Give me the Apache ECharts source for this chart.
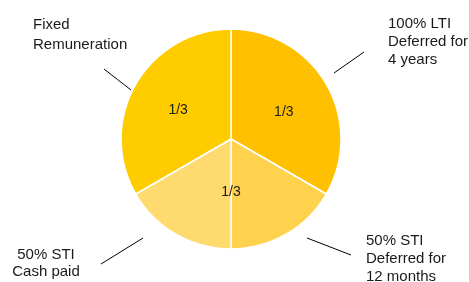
<!DOCTYPE html>
<html>
<head>
<meta charset="utf-8">
<script src="https://cdn.jsdelivr.net/npm/echarts@6/dist/echarts.min.js"></script>
<style>
  html, body { margin: 0; padding: 0; background: #fff; }
  #chart { width: 469px; height: 282px; }
</style>
</head>
<body>
<div id="chart"></div>
<script>
// pay mix, clockwise from 12 o'clock
const categories = ['100% LTI\nDeferred for\n4 years', '50% STI\nDeferred for\n12 months', '50% STI\nCash paid', 'Fixed\nRemuneration']
const shares = [1 / 3, 1 / 6, 1 / 6, 1 / 3]
// the three thirds that carry the "1/3" text
const thirdLabels = ['1/3', '1/3', '1/3']
const thirdShares = [1 / 3, 1 / 3, 1 / 3]

const colors = ['#FFC000', '#FFD24D', '#FFDA6E', '#FFCC00']
const font = 'Liberation Sans, Arial, sans-serif'

// where each outer label sits and its short leader line
const outer = [
  {x: 388, y: 41.5, align: 'left', lh: 18, line: [[334, 73], [364, 52]]},
  {x: 366, y: 259, align: 'left', lh: 18, line: [[307, 238], [351, 255]]},
  {x: 46, y: 263, align: 'center', lh: 17, line: [[143, 238], [101, 264]]},
  {x: 33, y: 35, align: 'left', lh: 20, line: [[131, 90], [104, 69]]}
]
// small nudges for the inner "1/3" texts
const innerDy = [4, -8, 2]

const chart = echarts.init(document.getElementById('chart'), null, {renderer: 'canvas'})
chart.setOption({
  animation: false,
  color: colors,
  series: [
    {
      type: 'pie',
      center: [231, 139],
      radius: 110,
      startAngle: 90,
      clockwise: true,
      avoidLabelOverlap: false,
      silent: true,
      itemStyle: {borderColor: '#fff', borderWidth: 1.5},
      label: {
        show: true,
        position: 'outside',
        fontFamily: font,
        fontSize: 15,
        color: '#1a1a1a'
      },
      labelLine: {show: true, lineStyle: {color: '#000', width: 1}},
      labelLayout: params => {
        const o = outer[params.dataIndex]
        const [a, b] = o.line
        return {
          x: o.x,
          y: o.y,
          align: o.align,
          verticalAlign: 'middle',
          labelLinePoints: [a, [(a[0] + b[0]) / 2, (a[1] + b[1]) / 2], b]
        }
      },
      data: categories.map((name, i) => ({
        name,
        value: shares[i],
        label: {lineHeight: outer[i].lh}
      }))
    },
    {
      type: 'pie',
      center: [231, 139],
      radius: 116,
      startAngle: 90,
      clockwise: true,
      silent: true,
      z: 3,
      itemStyle: {color: 'rgba(0,0,0,0)', borderWidth: 0},
      label: {
        show: true,
        position: 'inner',
        formatter: '{b}',
        fontFamily: font,
        fontSize: 14,
        color: '#1a1a1a'
      },
      labelLine: {show: false},
      labelLayout: params => ({dy: innerDy[params.dataIndex]}),
      data: thirdLabels.map((name, i) => ({name, value: thirdShares[i]}))
    }
  ]
})
</script>
</body>
</html>
